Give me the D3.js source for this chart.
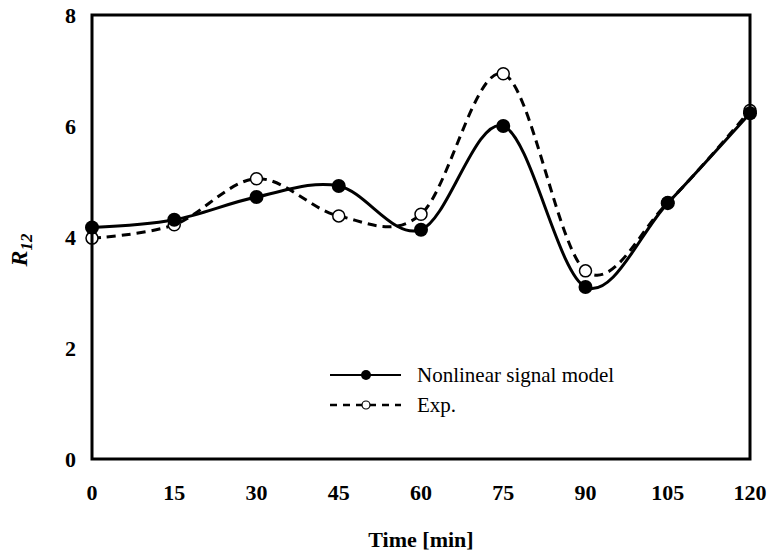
<!DOCTYPE html>
<html>
<head>
<meta charset="utf-8">
<script src="https://cdn.jsdelivr.net/npm/d3@7"></script>
<style>
  body { margin: 0; background: #fff; }
  text { font-family: "Liberation Serif", "Times New Roman", serif; }
</style>
</head>
<body>
<div class="chart"></div>
<script>
// time points [min]
var times = [0, 15, 30, 45, 60, 75, 90, 105, 120];
// nonlinear signal model
var model = [4.17, 4.31, 4.72, 4.92, 4.13, 6.0, 3.1, 4.61, 6.23];
// experiment
var expData = [3.98, 4.22, 5.05, 4.38, 4.41, 6.94, 3.39, 4.62, 6.28];
var xTicks = [0, 15, 30, 45, 60, 75, 90, 105, 120];
var yTicks = [0, 2, 4, 6, 8];

var w = 776, h = 557;
var pLeft = 92, pRight = 750, pTop = 15, pBottom = 459;

var svg = d3.select(".chart").append("svg")
            .attr("width", w)
            .attr("height", h);

var x = d3.scaleLinear().domain([0, 120]).range([pLeft, pRight]);
var y = d3.scaleLinear().domain([0, 8]).range([pBottom, pTop]);

// tick labels
svg.selectAll(".xt").data(xTicks).enter().append("text")
   .attr("x", function(d){ return x(d); })
   .attr("y", pBottom + 41)
   .attr("text-anchor", "middle")
   .attr("font-size", 22)
   .attr("font-weight", "bold")
   .text(function(d){ return d; });

svg.selectAll(".yt").data(yTicks).enter().append("text")
   .attr("x", pLeft - 16)
   .attr("y", function(d){ return y(d) + 8; })
   .attr("text-anchor", "end")
   .attr("font-size", 22)
   .attr("font-weight", "bold")
   .text(function(d){ return d; });

// axis titles
svg.append("text")
   .attr("x", (pLeft + pRight) / 2)
   .attr("y", 547)
   .attr("text-anchor", "middle")
   .attr("font-size", 22)
   .attr("font-weight", "bold")
   .text("Time [min]");

var yt = svg.append("text")
   .attr("transform", "translate(27,250) rotate(-90)")
   .attr("text-anchor", "middle")
   .attr("font-size", 24)
   .attr("font-weight", "bold")
   .attr("font-style", "italic");
yt.append("tspan").text("R");
yt.append("tspan").attr("font-size", 17).attr("dy", 5).text("12");

var line = d3.line()
   .x(function(d, i){ return x(times[i]); })
   .y(function(d){ return y(d); })
   .curve(d3.curveCardinal.tension(0));

svg.append("path")
   .datum(expData)
   .attr("d", line)
   .attr("fill", "none")
   .attr("stroke", "#000")
   .attr("stroke-width", 3)
   .attr("stroke-dasharray", "9,6");

svg.append("path")
   .datum(model)
   .attr("d", line)
   .attr("fill", "none")
   .attr("stroke", "#000")
   .attr("stroke-width", 3);

svg.selectAll(".ep").data(expData).enter().append("circle")
   .attr("cx", function(d, i){ return x(times[i]); })
   .attr("cy", function(d){ return y(d); })
   .attr("r", 6)
   .attr("fill", "#fff")
   .attr("stroke", "#000")
   .attr("stroke-width", 1.5);

svg.selectAll(".mp").data(model).enter().append("circle")
   .attr("cx", function(d, i){ return x(times[i]); })
   .attr("cy", function(d){ return y(d); })
   .attr("r", 7)
   .attr("fill", "#000");

// frame
svg.append("rect")
   .attr("x", pLeft)
   .attr("y", pTop)
   .attr("width", pRight - pLeft)
   .attr("height", pBottom - pTop)
   .attr("fill", "none")
   .attr("stroke", "#000")
   .attr("stroke-width", 3);

// legend
var lg = svg.append("g");
lg.append("line").attr("x1", 330).attr("x2", 401).attr("y1", 375).attr("y2", 375)
  .attr("stroke", "#000").attr("stroke-width", 2);
lg.append("circle").attr("cx", 366).attr("cy", 375).attr("r", 5).attr("fill", "#000");
lg.append("text").attr("x", 417).attr("y", 382).attr("font-size", 21).text("Nonlinear signal model");

lg.append("line").attr("x1", 330).attr("x2", 401).attr("y1", 405).attr("y2", 405)
  .attr("stroke", "#000").attr("stroke-width", 2.5).attr("stroke-dasharray", "7,6");
lg.append("circle").attr("cx", 366).attr("cy", 405).attr("r", 4)
  .attr("fill", "#fff").attr("stroke", "#000").attr("stroke-width", 1.2);
lg.append("text").attr("x", 417).attr("y", 412).attr("font-size", 21).text("Exp.");
</script>
</body>
</html>
